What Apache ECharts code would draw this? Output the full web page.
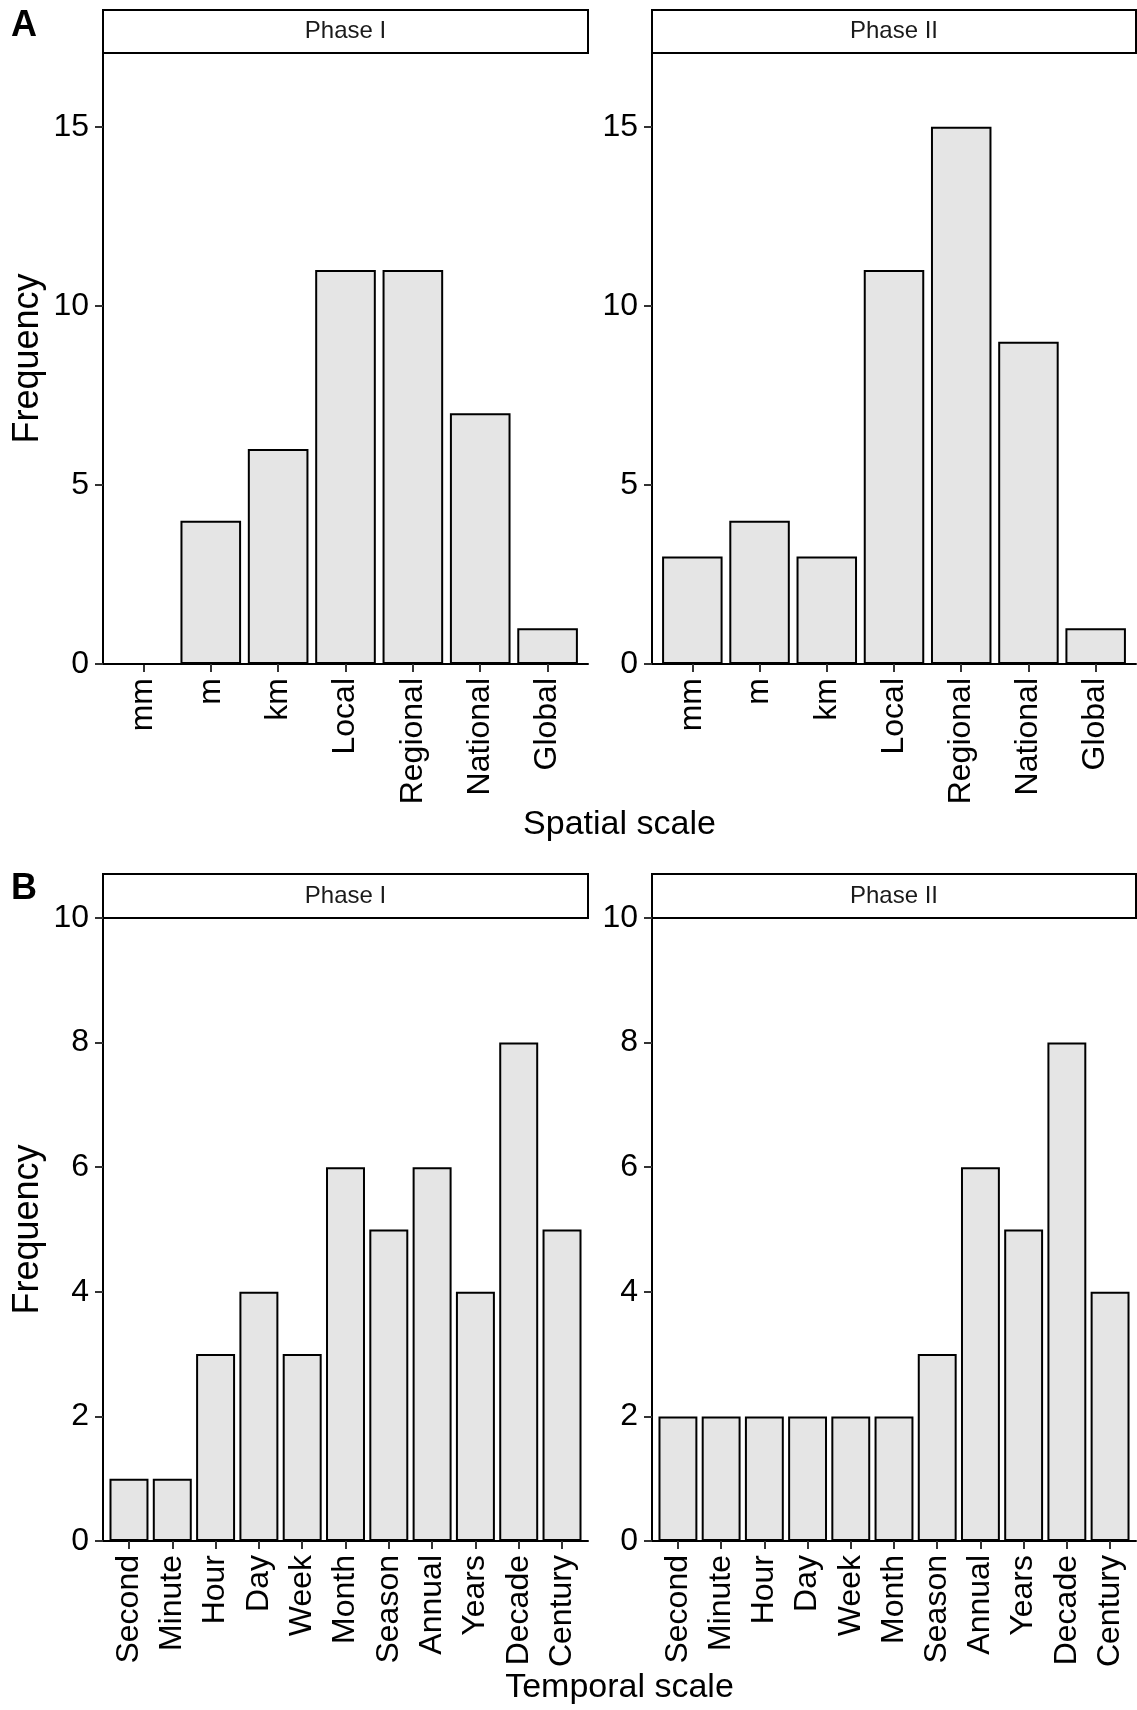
<!DOCTYPE html>
<html>
<head>
<meta charset="utf-8">
<script src="https://cdn.jsdelivr.net/npm/echarts@6/dist/echarts.min.js"></script>
<style>html,body{margin:0;padding:0;background:#fff}#c{width:1137px;height:1710px}</style>
</head>
<body>
<div id="c"></div>
<script>
// ---- data ----
const spatialCategories = ['mm', 'm', 'km', 'Local', 'Regional', 'National', 'Global'];
const spatialPhase1 = [0, 4, 6, 11, 11, 7, 1];
const spatialPhase2 = [3, 4, 3, 11, 15, 9, 1];
const temporalCategories = ['Second', 'Minute', 'Hour', 'Day', 'Week', 'Month', 'Season', 'Annual', 'Years', 'Decade', 'Century'];
const temporalPhase1 = [1, 1, 3, 4, 3, 6, 5, 6, 4, 8, 5];
const temporalPhase2 = [2, 2, 2, 2, 2, 2, 3, 6, 5, 8, 4];
const spatialTicks = [0, 5, 10, 15];
const temporalTicks = [0, 2, 4, 6, 8, 10];
const stripLabels = ['Phase I', 'Phase II'];

// ---- layout / style ----
const FONT = "'Liberation Sans', Arial, Helvetica, sans-serif";
const panels = [
  {cats: spatialCategories, values: spatialPhase1, ticks: spatialTicks, yMax: 17.06, left: 103, top: 53, width: 485, height: 611, stripTop: 10, strip: stripLabels[0], yTitle: true},
  {cats: spatialCategories, values: spatialPhase2, ticks: spatialTicks, yMax: 17.06, left: 652, top: 53, width: 484, height: 611, stripTop: 10, strip: stripLabels[1], yTitle: false},
  {cats: temporalCategories, values: temporalPhase1, ticks: temporalTicks, yMax: 10, left: 103, top: 918, width: 485, height: 623, stripTop: 874, strip: stripLabels[0], yTitle: true},
  {cats: temporalCategories, values: temporalPhase2, ticks: temporalTicks, yMax: 10, left: 652, top: 918, width: 484, height: 623, stripTop: 874, strip: stripLabels[1], yTitle: false}
];

const grid = [], xAxis = [], yAxis = [], series = [], graphic = [];
panels.forEach((p, i) => {
  const n = p.cats.length;
  grid.push({left: p.left, top: p.top, width: p.width, height: p.height, containLabel: false});
  const idx = p.cats.map((_, k) => k);
  xAxis.push({
    type: 'value', gridIndex: i, min: -0.6, max: n - 1 + 0.6,
    axisLine: {show: true, onZero: false, lineStyle: {color: '#000', width: 2}},
    axisTick: {show: true, customValues: idx, length: 8, lineStyle: {color: '#333', width: 2}},
    axisLabel: {show: true, customValues: idx, rotate: 90, margin: 14, fontSize: 32, fontFamily: FONT, color: '#000',
      formatter: (v) => p.cats[Math.round(v)]},
    splitLine: {show: false}
  });
  yAxis.push({
    type: 'value', gridIndex: i, min: 0, max: p.yMax,
    name: p.yTitle ? 'Frequency' : '', nameLocation: 'middle', nameGap: 57,
    nameTextStyle: {fontSize: 36, fontFamily: FONT, color: '#000'},
    axisLine: {show: true, onZero: false, lineStyle: {color: '#000', width: 2}},
    axisTick: {show: true, customValues: p.ticks, length: 8, lineStyle: {color: '#333', width: 2}},
    axisLabel: {show: true, customValues: p.ticks, margin: 14, fontSize: 32, fontFamily: FONT, color: '#000'},
    splitLine: {show: false}
  });
  const unit = p.width / (n - 1 + 1.2);
  series.push({
    type: 'bar', xAxisIndex: i, yAxisIndex: i,
    data: p.values.map((v, k) => [k, v]),
    barWidth: unit * 0.9,
    itemStyle: {color: '#e5e5e5', borderColor: '#000', borderWidth: 2},
    silent: true
  });
  graphic.push({
    type: 'rect', silent: true,
    shape: {x: p.left, y: p.stripTop, width: p.width, height: p.top - p.stripTop},
    style: {fill: '#fff', stroke: '#000', lineWidth: 2}
  });
  graphic.push({
    type: 'text', silent: true,
    x: p.left + p.width / 2, y: (p.stripTop + p.top) / 2,
    style: {text: p.strip, fontSize: 24, fontFamily: FONT, fill: '#1a1a1a',
      align: 'center', verticalAlign: 'middle', textAlign: 'center', textVerticalAlign: 'middle'}
  });
});

const centerX = (panels[0].left + panels[1].left + panels[1].width) / 2;
const extraTexts = [
  {t: 'Spatial scale', x: centerX, y: 825, size: 34, weight: 'normal', align: 'center'},
  {t: 'Temporal scale', x: centerX, y: 1688, size: 34, weight: 'normal', align: 'center'},
  {t: 'A', x: 11, y: 26, size: 36, weight: 'bold', align: 'left'},
  {t: 'B', x: 11, y: 889, size: 36, weight: 'bold', align: 'left'}
];
extraTexts.forEach(e => graphic.push({
  type: 'text', silent: true, x: e.x, y: e.y,
  style: {text: e.t, fontSize: e.size, fontWeight: e.weight, fontFamily: FONT, fill: '#000',
    align: e.align, verticalAlign: 'middle', textAlign: e.align, textVerticalAlign: 'middle'}
}));

const chart = echarts.init(document.getElementById('c'), null, {renderer: 'canvas'});
chart.setOption({
  animation: false,
  backgroundColor: '#fff',
  grid, xAxis, yAxis, series, graphic
});
</script>
</body>
</html>
